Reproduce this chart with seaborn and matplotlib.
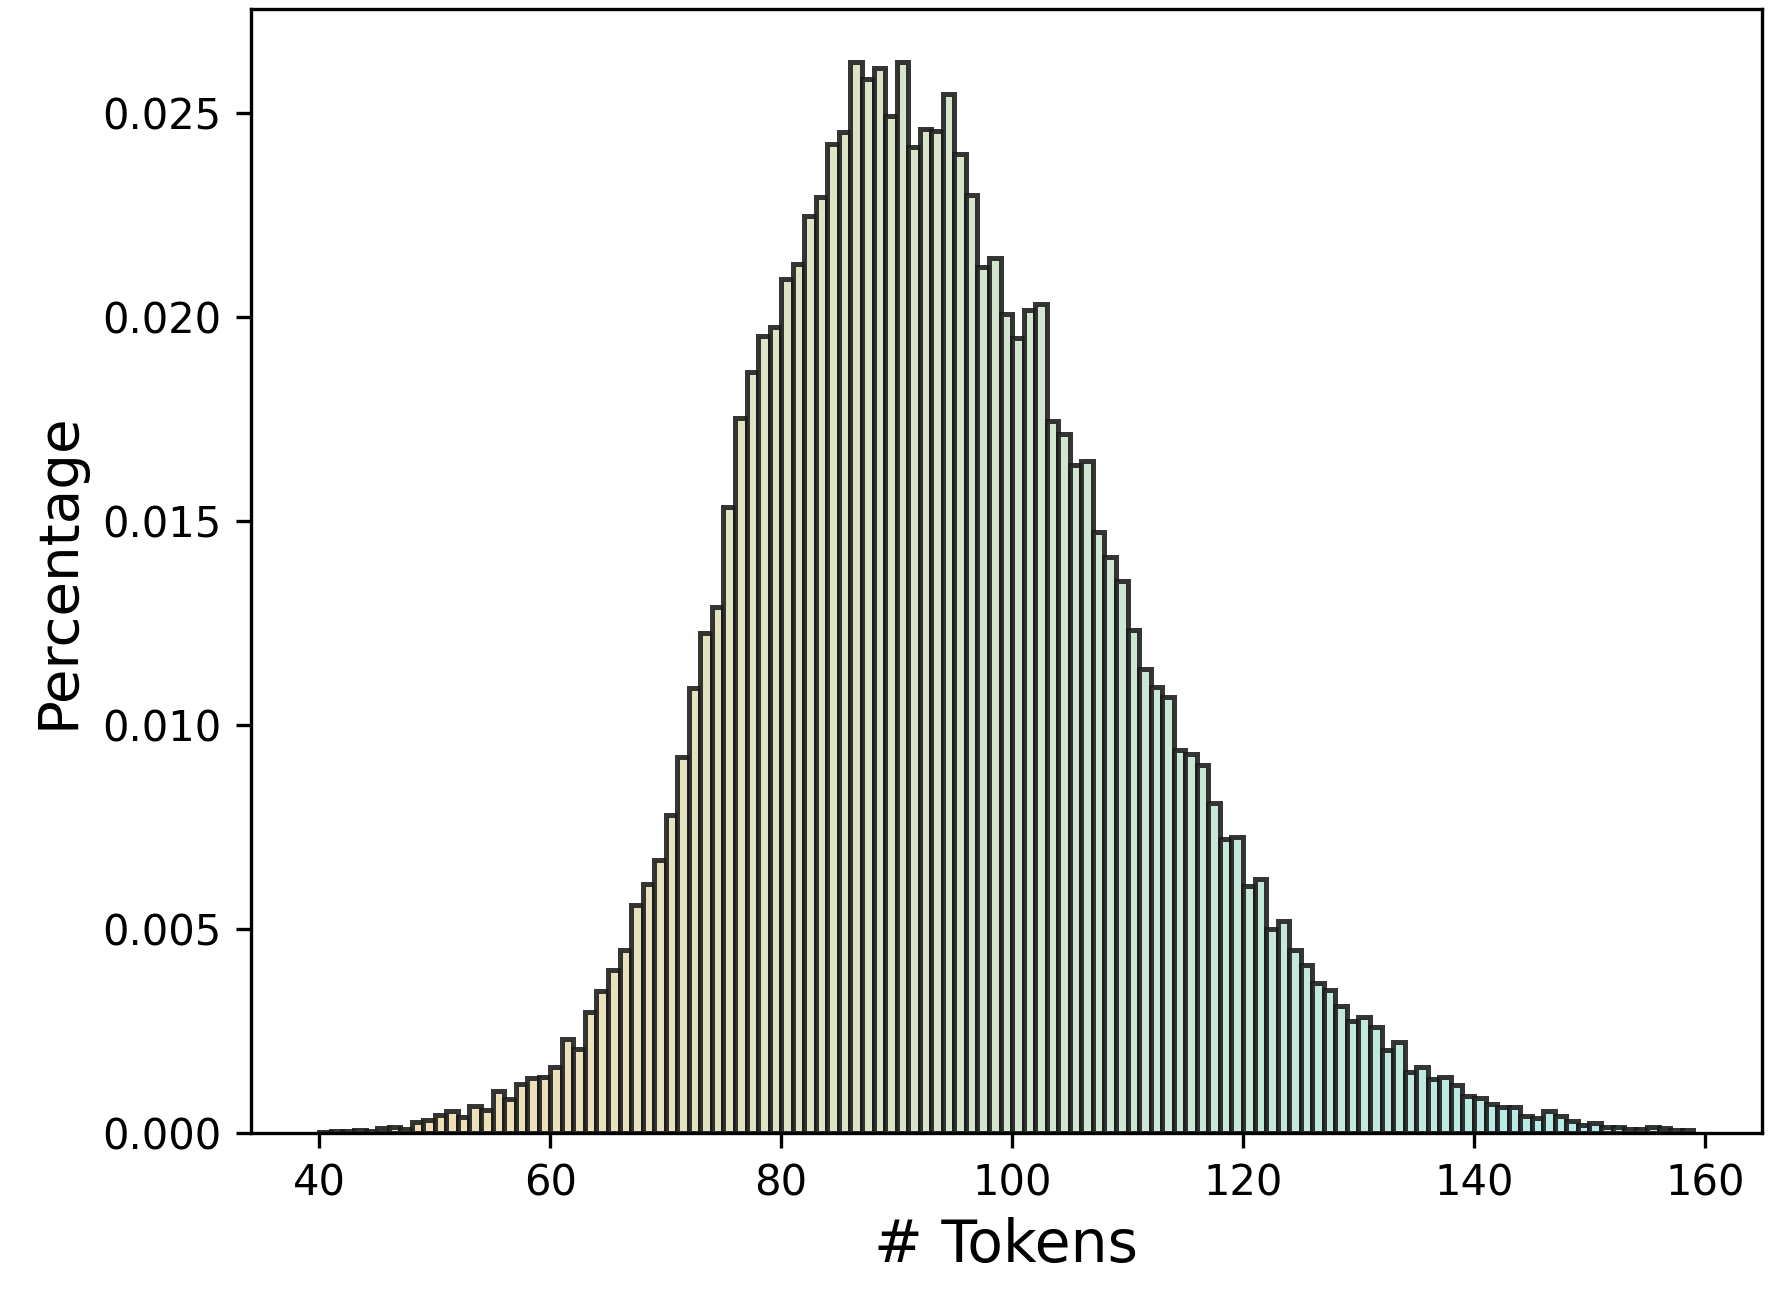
"""
Token length distribution histogram (percentage per token count).
"""

import numpy as np
import matplotlib
matplotlib.use("Agg")
import matplotlib.pyplot as plt
import seaborn as sns

# bin starts, one bin per token count (40 .. 158), width 1
tokens = list(range(40, 159))

percentage = [
    0.00003, 0.00005, 0.00005, 0.00007, 0.00005, 0.00013, 0.00016, 0.00010, 0.00028, 0.00033,  # 40-49
    0.00046, 0.00055, 0.00041, 0.00067, 0.00057, 0.00104, 0.00084, 0.00122, 0.00136, 0.00139,  # 50-59
    0.00162, 0.00230, 0.00206, 0.00297, 0.00349, 0.00399, 0.00450, 0.00560, 0.00610, 0.00670,  # 60-69
    0.00780, 0.00923, 0.01090, 0.01226, 0.01290, 0.01533, 0.01751, 0.01866, 0.01953, 0.01974,  # 70-79
    0.02092, 0.02129, 0.02246, 0.02294, 0.02424, 0.02453, 0.02623, 0.02583, 0.02610, 0.02492,  # 80-89
    0.02623, 0.02416, 0.02461, 0.02455, 0.02545, 0.02400, 0.02298, 0.02121, 0.02143, 0.02007,  # 90-99
    0.01948, 0.02016, 0.02031, 0.01744, 0.01714, 0.01637, 0.01648, 0.01472, 0.01411, 0.01352,  # 100-109
    0.01234, 0.01138, 0.01094, 0.01068, 0.00940, 0.00930, 0.00903, 0.00809, 0.00721, 0.00725,  # 110-119
    0.00607, 0.00623, 0.00501, 0.00521, 0.00448, 0.00413, 0.00368, 0.00350, 0.00311, 0.00274,  # 120-129
    0.00286, 0.00260, 0.00205, 0.00224, 0.00149, 0.00162, 0.00132, 0.00138, 0.00118, 0.00092,  # 130-139
    0.00087, 0.00072, 0.00064, 0.00065, 0.00043, 0.00038, 0.00054, 0.00043, 0.00030, 0.00021,  # 140-149
    0.00025, 0.00016, 0.00016, 0.00010, 0.00010, 0.00016, 0.00013, 0.00008, 0.00008,           # 150-158
]

bin_edges = list(range(40, 160))

# colour ramp, left to right
color_start = np.array([246, 222, 176]) / 255
color_end = np.array([176, 236, 236]) / 255

fig = plt.figure(figsize=(5.9, 4.38), dpi=300)
ax = fig.add_axes([0.1416, 0.1375, 0.8539, 0.8557])

sns.histplot(x=tokens, weights=percentage, bins=bin_edges, stat='count',
             edgecolor=(0.1, 0.1, 0.1, 0.88), linewidth=1.2, alpha=1.0, ax=ax)

n = len(ax.patches)
for i, p in enumerate(ax.patches):
    t = i / (n - 1)
    p.set_facecolor(tuple(color_start * (1 - t) + color_end * t))

ax.set_xlabel('# Tokens', fontsize=14, labelpad=3)
ax.set_ylabel('Percentage', fontsize=13.5)
ax.tick_params(labelsize=10)

fig.savefig('out.png', dpi=300)
